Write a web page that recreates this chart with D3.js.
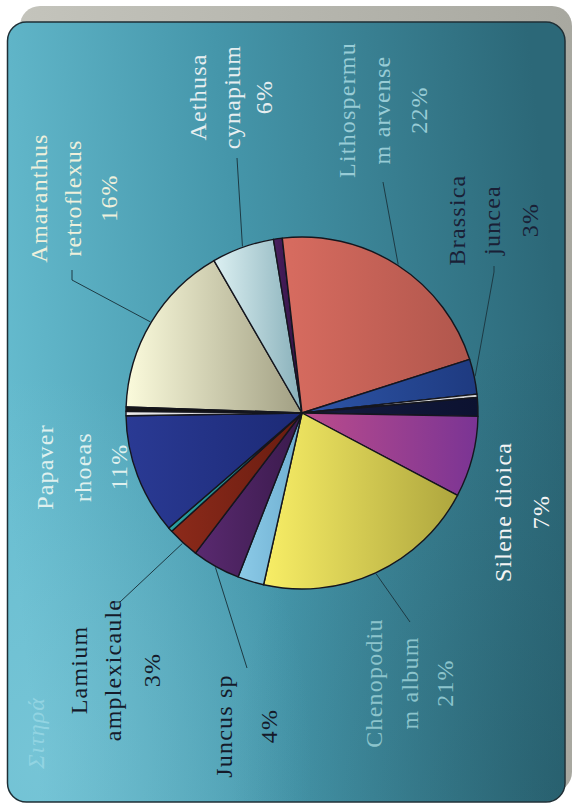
<!DOCTYPE html>
<html>
<head>
<meta charset="utf-8">
<script src="https://cdn.jsdelivr.net/npm/d3@7"></script>
<style>
  html, body { margin: 0; padding: 0; background: #ffffff; }
  svg { display: block; }
  .lbl { font-family: "Liberation Serif", "DejaVu Serif", serif; }
</style>
</head>
<body>
<svg id="chart" width="574" height="805"></svg>
<script>
// ---------------- DATA ----------------
const chartTitle = "Σιτηρά";
// slices in clockwise order (as drawn); unnamed slices carry no label
const speciesNames = [
  "Amaranthus retroflexus", "Aethusa cynapium", "", "Lithospermum arvense",
  "Brassica juncea", "", "", "Silene dioica", "Chenopodium album", "",
  "Juncus sp", "Lamium amplexicaule", "", "Papaver rhoeas", "", ""
];
const shareValues = [16.0, 5.7, 0.8, 21.7, 3.2, 0.3, 1.7, 7.4, 20.6, 2.4, 4.4, 2.9, 0.4, 11.0, 0.4, 0.4];
// label text lines as printed on the chart (names wrapped as in the original)
const labelLines = [
  ["Amaranthus", "retroflexus"], ["Aethusa", "cynapium"], null, ["Lithospermu", "m arvense"],
  ["Brassica", "juncea"], null, null, ["Silene dioica"], ["Chenopodiu", "m album"], null,
  ["Juncus sp"], ["Lamium", "amplexicaule"], null, ["Papaver", "rhoeas"], null, null
];

// ---------------- STYLE / LAYOUT ----------------
const cx = 302, cy = 413, R = 176;
const startDeg = 272;
const sliceLight = ["#fbfbdc", "#dcf0f2", "#4a2060", "#d86c60", "#2e56a8", "#f4f4f4", "#141c40", "#bc4c8c",
                    "#f8ee66", "#8ccbe8", "#5a2a70", "#8c2a1a", "#2aa0a0", "#2a3a94", "#ececec", "#161616"];
const sliceDark  = ["#a19f83", "#88b0ba", "#301040", "#b0564c", "#1e3a80", "#d0d0d0", "#0c1230", "#7a3494",
                    "#aea63e", "#6eaed0", "#3a1a4c", "#681c10", "#1a7a80", "#1c2a76", "#c8c8c8", "#0a0a0a"];
const labelLayout = [
  { xs: [47, 81, 117],  y: 198, color: "#eef0dc", leader: [[72, 270], [72, 280]] },
  { xs: [206, 240, 272], y: 97, color: "#e6eef0", leader: [[237, 158]] },
  null,
  { xs: [355, 390, 427], y: 110, color: "#98ccd6", leader: [[383, 182]] },
  { xs: [465, 500, 538], y: 220, color: "#1a2036", leader: [[494, 266], [494, 272]] },
  null, null,
  { xs: [511, 549],     y: 512, color: "#f4f4f4", leader: null },
  { xs: [382, 418, 453], y: 683, color: "#8cc4cc", leader: [[410, 622]] },
  null,
  { xs: [232, 277],     y: 726, color: "#151a2a", leader: [[247, 668]] },
  { xs: [87, 121, 160], y: 670, color: "#151a2a", leader: [[115, 602], [120, 602]] },
  null,
  { xs: [53, 91, 127],  y: 467, color: "#dff0ee", leader: null },
  null, null
];

// ---------------- DRAW ----------------
const svg = d3.select("#chart");
const defs = svg.append("defs");

const bg = defs.append("linearGradient").attr("id", "bgGrad")
  .attr("x1", 0).attr("y1", 0.6).attr("x2", 1).attr("y2", 0.45);
bg.append("stop").attr("offset", 0).attr("stop-color", "#66bccf");
bg.append("stop").attr("offset", 0.45).attr("stop-color", "#4596aa");
bg.append("stop").attr("offset", 1).attr("stop-color", "#2c6878");
const glow = defs.append("radialGradient").attr("id", "glow")
  .attr("cx", 0.05).attr("cy", 0.95).attr("r", 0.5);
glow.append("stop").attr("offset", 0).attr("stop-color", "#9ad8e6").attr("stop-opacity", 0.3);
glow.append("stop").attr("offset", 1).attr("stop-color", "#9ad8e6").attr("stop-opacity", 0);
const shade = defs.append("radialGradient").attr("id", "shade")
  .attr("cx", 1).attr("cy", 1).attr("r", 0.6);
shade.append("stop").attr("offset", 0).attr("stop-color", "#173e48").attr("stop-opacity", 0.3);
shade.append("stop").attr("offset", 1).attr("stop-color", "#173e48").attr("stop-opacity", 0);

const greyGrad = defs.append("linearGradient").attr("id", "greyGrad")
  .attr("x1", 0).attr("y1", 0).attr("x2", 1).attr("y2", 0);
greyGrad.append("stop").attr("offset", 0).attr("stop-color", "#c4c4bc");
greyGrad.append("stop").attr("offset", 1).attr("stop-color", "#a8a8a0");

svg.append("rect").attr("x", 20).attr("y", 6).attr("width", 552).attr("height", 786)
  .attr("rx", 20).attr("fill", "url(#greyGrad)");
svg.append("rect").attr("x", 7.5).attr("y", 22).attr("width", 557.5).attr("height", 780)
  .attr("rx", 19).attr("fill", "url(#bgGrad)").attr("stroke", "#1f2f36").attr("stroke-width", 1.5);
svg.append("rect").attr("x", 8.5).attr("y", 23).attr("width", 555.5).attr("height", 778)
  .attr("rx", 18).attr("fill", "url(#glow)");
svg.append("rect").attr("x", 8.5).attr("y", 23).attr("width", 555.5).attr("height", 778)
  .attr("rx", 18).attr("fill", "url(#shade)");

speciesNames.forEach((n, i) => {
  const g = defs.append("linearGradient").attr("id", "sg" + i)
    .attr("x1", 0).attr("y1", 0).attr("x2", 1).attr("y2", 0);
  g.append("stop").attr("offset", 0).attr("stop-color", sliceLight[i]);
  g.append("stop").attr("offset", 1).attr("stop-color", sliceDark[i]);
});

const toRad = d => d * Math.PI / 180;
const pie = d3.pie().sort(null).value(d => d)
  .startAngle(toRad(startDeg)).endAngle(toRad(startDeg + 360));
const arcs = pie(shareValues);
const arc = d3.arc().innerRadius(0).outerRadius(R);
const total = d3.sum(shareValues);
const pct = d3.format(".0%");

const pieG = svg.append("g").attr("transform", `translate(${cx},${cy})`);
pieG.selectAll("path.slice").data(arcs).join("path")
  .attr("class", "slice")
  .attr("d", arc)
  .attr("fill", (d, i) => `url(#sg${i})`)
  .attr("stroke", "#15161e")
  .attr("stroke-width", 1.4)
  .attr("stroke-linejoin", "round");

const edgePoint = (d, rr) => {
  const a = (d.startAngle + d.endAngle) / 2;
  return [cx + Math.sin(a) * rr, cy - Math.cos(a) * rr];
};
const lineGen = d3.line();
arcs.forEach((d, i) => {
  const L = labelLayout[i];
  if (!L || !L.leader) return;
  const pts = L.leader.concat([edgePoint(d, R + 1)]);
  svg.append("path").attr("d", lineGen(pts))
    .attr("fill", "none").attr("stroke", "#1d3a44").attr("stroke-width", 1);
});

arcs.forEach((d, i) => {
  const L = labelLayout[i];
  const lines = labelLines[i];
  if (!L || !lines) return;
  const all = lines.concat([pct(shareValues[i] / total)]);
  all.forEach((t, k) => {
    svg.append("text")
      .attr("class", "lbl")
      .attr("transform", `translate(${L.xs[k]},${L.y}) rotate(-90)`)
      .attr("text-anchor", "middle")
      .attr("font-size", 24)
      .attr("letter-spacing", 1.2)
      .attr("fill", L.color)
      .text(t);
  });
});

svg.append("text")
  .attr("class", "lbl")
  .attr("transform", `translate(44,733) rotate(-90)`)
  .attr("text-anchor", "middle")
  .attr("font-style", "italic")
  .attr("font-size", 24)
  .attr("letter-spacing", 1)
  .attr("fill", "#92d4e2")
  .text(chartTitle);
</script>
</body>
</html>
